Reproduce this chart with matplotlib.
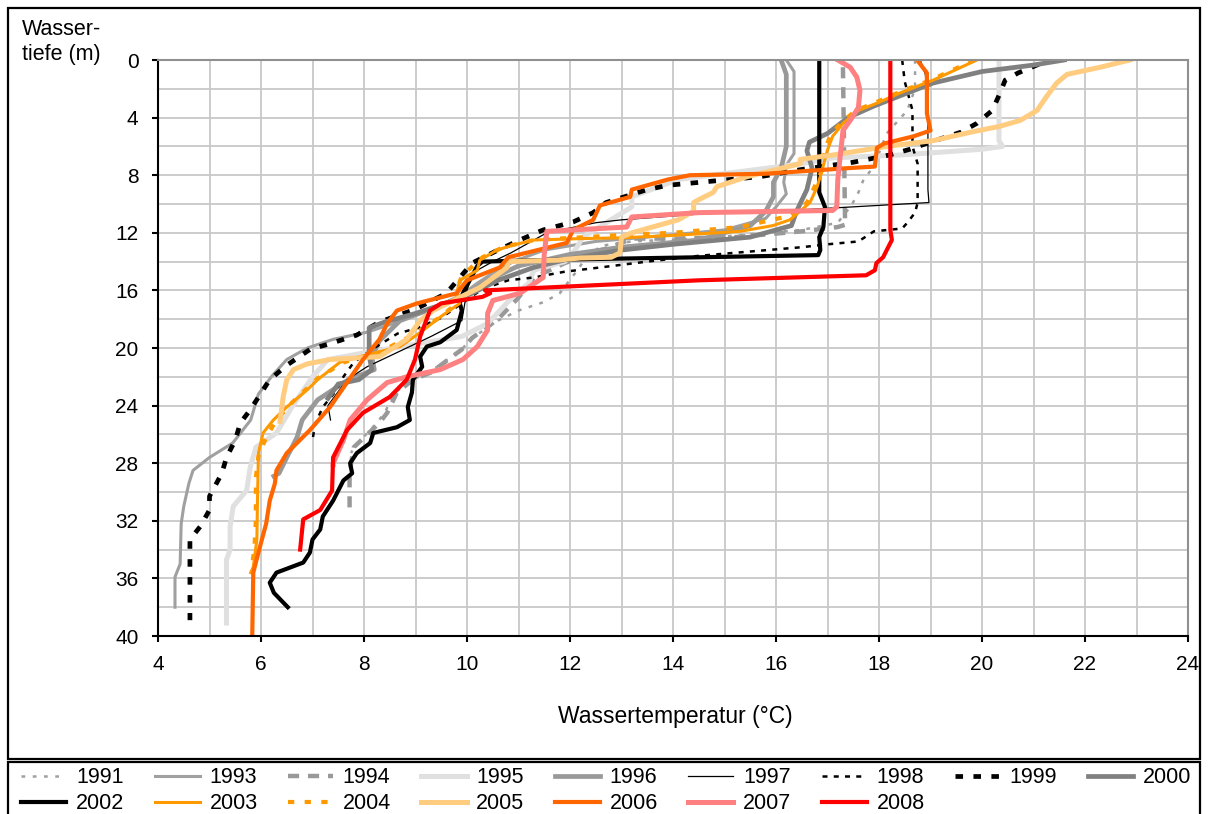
import matplotlib
matplotlib.use("Agg")
import matplotlib.pyplot as plt
import matplotlib.patches as patches
from matplotlib.ticker import MultipleLocator

plt.rcParams['font.family'] = ['Liberation Sans', 'DejaVu Sans']

# temperature (degC) / depth (m) profiles
t1991 = [18.7, 18.7, 18.55, 18.3, 18.15, 18.05, 17.9, 17.7, 17.6, 17.45, 17.35, 17.2, 16.5, 15.5, 14.5, 13.2, 12.6, 12.3, 12.1, 11.8, 11.5, 11.0, 10.6, 10.06, 9.9, 9.3, 8.95, 8.6, 8.4, 8.25, 7.8, 7.75]
d1991 = [0, 2, 3.5, 4.5, 5.1, 6, 7.4, 8.3, 9.2, 10.2, 10.6, 11.3, 11.8, 12.1, 12.4, 12.6, 12.9, 13.8, 14.8, 16.2, 16.8, 17.4, 18.1, 19.4, 20.1, 21.6, 22.2, 23.1, 24.5, 25.2, 26.9, 27.3]

t1993 = [16.2, 16.35, 16.35, 16.2, 16.15, 16.2, 16.0, 15.8, 15.0, 13.5, 12.5, 11.5, 10.9, 10.5, 10.2, 9.9, 9.5, 9.0, 8.57, 8.06, 7.4, 6.9, 6.5, 6.2, 5.95, 5.8, 5.45, 5.0, 4.68, 4.6, 4.5, 4.45, 4.43, 4.33, 4.33]
d1993 = [0, 0.8, 6.5, 7.3, 8.5, 9.3, 10.2, 11.0, 11.8, 12.3, 12.6, 13.2, 14.0, 14.8, 15.5, 16.3, 17.0, 17.6, 18.3, 18.9, 19.4, 20.0, 20.8, 22.0, 23.2, 25.0, 26.6, 27.6, 28.5, 29.4, 31.0, 32.2, 35.0, 35.9, 38.0]

t1994 = [17.3, 17.34, 17.38, 17.2, 16.5, 15.2, 14.0, 13.2, 12.8, 12.6, 11.9, 11.3, 11.0, 10.6, 10.1, 9.9, 9.3, 8.95, 8.64, 8.45, 8.3, 7.8, 7.75, 7.72, 7.72]
d1994 = [0.5, 11.1, 11.4, 11.6, 11.9, 12.3, 12.4, 12.4, 13.0, 13.2, 14.1, 15.1, 16.5, 18.0, 19.3, 20.1, 21.7, 22.2, 23.1, 24.5, 25.2, 26.9, 28.0, 29.0, 31.3]

t1995 = [20.33, 20.33, 20.4, 20.0, 18.4, 17.1, 16.5, 15.2, 14.1, 13.2, 13.2, 12.25, 12.1, 11.9, 11.3, 11.2, 10.9, 10.4, 9.9, 8.06, 7.3, 7.0, 6.6, 6.3, 5.9, 5.79, 5.72, 5.46, 5.4, 5.4, 5.33, 5.33]
d1995 = [0, 5.6, 6.0, 6.2, 6.6, 6.8, 7.2, 7.8, 8.3, 9.5, 10.2, 12.3, 13.2, 14.0, 14.6, 15.5, 16.4, 18.3, 19.2, 20.3, 20.8, 22.0, 24.1, 25.9, 26.9, 28.3, 29.9, 31.0, 32.4, 34.0, 34.7, 39.1]

t1996 = [16.1, 16.2, 16.2, 16.1, 15.95, 15.95, 15.8, 15.5, 14.5, 13.0, 12.0, 11.0, 10.4, 10.0, 9.3, 8.7, 8.3, 8.15, 8.2, 7.7, 7.1, 6.8, 6.7, 6.5, 6.35, 6.25]
d1996 = [0, 1, 6, 7.5, 8.5, 9.5, 10.5, 11.5, 12.5, 13.0, 13.5, 14.3, 15.3, 16.3, 17.3, 18.1, 19.5, 20.6, 21.5, 22.2, 23.6, 25.0, 26.2, 27.6, 28.7, 28.9]

t1997 = [18.8, 18.9, 18.95, 18.95, 18.97, 16.5, 14.5, 13.0, 12.5, 11.55, 10.85, 10.5, 10.1, 10.0, 9.9, 9.3, 8.06, 7.67, 7.3, 7.35]
d1997 = [0, 1, 3, 9, 9.9, 10.4, 10.7, 11.1, 11.3, 12.0, 13.4, 14.0, 14.8, 16.0, 18.1, 19.2, 21.3, 22.2, 24.0, 25.0]

t1998 = [18.45, 18.5, 18.65, 18.65, 18.75, 18.75, 18.7, 18.55, 18.45, 17.9, 17.6, 17.0, 16.5, 15.5, 14.5, 13.5, 12.6, 11.9, 11.3, 10.8, 10.3, 9.9, 9.5, 9.05, 8.65, 8.2, 7.8, 7.6, 7.45, 7.2, 7.05, 7.0]
d1998 = [0, 1.5, 3.5, 6, 7.2, 9.9, 10.6, 11.3, 11.7, 11.9, 12.6, 12.8, 13.0, 13.3, 13.6, 14.0, 14.4, 14.7, 15.1, 15.3, 15.9, 16.9, 17.9, 18.6, 19.0, 20.0, 21.0, 22.0, 23.0, 24.1, 25.3, 26.4]

t1999 = [21.1, 20.7, 20.45, 20.35, 20.2, 19.9, 19.6, 19.0, 18.6, 18.2, 17.5, 16.5, 15.7, 14.5, 13.9, 13.5, 12.7, 12.45, 12.06, 11.48, 11.09, 10.6, 10.1, 9.6, 9.0, 8.3, 7.86, 7.34, 6.95, 6.5, 6.17, 5.79, 5.6, 5.5, 5.33, 5.24, 5.0, 5.0, 4.82, 4.62, 4.62]
d1999 = [0.3, 0.9, 1.4, 2.3, 3.5, 4.4, 5.0, 5.7, 6.2, 6.6, 7.1, 7.6, 8.1, 8.5, 8.7, 9.0, 9.9, 10.6, 11.25, 11.8, 12.4, 13.2, 14.1, 16.2, 17.3, 18.2, 19.1, 19.7, 20.1, 21.2, 22.2, 24.3, 25.2, 26.4, 27.6, 28.7, 30.3, 31.25, 32.4, 33.3, 38.9]

t2000 = [21.6, 21.0, 20.0, 19.05, 18.4, 17.9, 17.4, 17.0, 16.65, 16.6, 16.7, 16.6, 16.4, 16.3, 15.5, 14.0, 13.0, 12.0, 11.3, 10.6, 10.1, 9.5, 9.0, 8.4, 8.1, 8.1, 8.15, 7.9, 7.5, 7.3]
d2000 = [0, 0.35, 0.8, 1.6, 2.5, 3.2, 4.0, 5.1, 5.7, 6.3, 7.5, 9.0, 10.5, 11.5, 12.3, 12.8, 13.2, 13.8, 14.4, 15.3, 16.2, 17.0, 17.6, 18.2, 18.6, 20.5, 21.5, 22.2, 22.5, 23.5]

t2002 = [16.84, 16.84, 16.95, 16.92, 16.84, 16.86, 16.82, 14.5, 12.0, 10.3, 10.2, 9.92, 9.86, 9.9, 9.8, 9.48, 9.22, 9.09, 9.13, 8.95, 8.93, 8.85, 8.89, 8.64, 8.18, 8.12, 7.86, 7.73, 7.77, 7.6, 7.4, 7.2, 7.15, 7.0, 6.95, 6.82, 6.3, 6.17, 6.25, 6.52]
d2002 = [0, 9.2, 10.2, 11.6, 12.3, 13.2, 13.55, 13.7, 13.85, 14.0, 14.3, 16.2, 16.9, 17.4, 18.75, 19.6, 19.9, 20.6, 21.3, 22.2, 23.1, 24.1, 25.0, 25.5, 25.9, 26.6, 27.3, 28.0, 28.7, 29.2, 30.6, 31.7, 32.6, 33.3, 34.2, 34.9, 35.6, 36.3, 37.0, 38.0]

t2003 = [19.9, 19.05, 18.4, 17.96, 17.6, 17.3, 17.1, 17.0, 16.95, 16.9, 16.8, 16.66, 16.5, 16.27, 15.94, 15.3, 14.85, 13.9, 13.0, 12.25, 11.3, 10.9, 10.58, 10.25, 10.2, 9.86, 9.8, 9.86, 9.5, 9.1, 8.7, 7.92, 7.53, 7.1, 6.9, 6.5, 6.24, 6.04, 5.95, 5.93, 5.92, 5.85, 5.8]
d2003 = [0, 1.4, 2.3, 3.0, 3.5, 4.4, 5.3, 6.25, 6.9, 7.6, 8.8, 9.9, 10.4, 11.1, 11.5, 11.9, 12.0, 12.2, 12.35, 12.4, 12.5, 12.85, 13.2, 13.9, 14.6, 15.3, 16.2, 16.9, 17.8, 18.9, 19.9, 20.6, 21.0, 22.2, 22.9, 24.1, 25.0, 25.9, 27.3, 31.0, 33.3, 35.2, 35.6]

t2004 = [19.85, 19.0, 18.35, 17.9, 17.55, 17.25, 17.05, 16.95, 16.9, 16.75, 16.6, 16.3, 15.3, 14.0, 13.0, 12.3, 11.3, 10.7, 10.3, 9.9, 9.8, 9.8, 9.5, 9.0, 8.3, 7.6, 7.1, 6.6, 6.3, 6.1, 5.95, 5.9, 5.9, 5.87, 5.83]
d2004 = [0, 1.4, 2.3, 3.0, 3.5, 4.4, 5.3, 6.2, 7.6, 8.8, 9.9, 10.8, 11.6, 12.0, 12.15, 12.3, 12.5, 13.0, 13.7, 15.0, 16.0, 16.9, 17.8, 19.0, 20.3, 21.0, 22.1, 23.8, 25.0, 26.2, 27.5, 29.0, 32.0, 34.0, 35.0]

t2005 = [22.87, 22.3, 21.65, 21.45, 21.26, 21.07, 20.74, 20.35, 19.8, 19.05, 18.15, 17.1, 16.47, 16.47, 15.44, 14.85, 14.78, 14.5, 14.4, 14.4, 14.1, 13.2, 13.0, 12.97, 12.8, 12.2, 11.75, 10.8, 10.78, 10.25, 9.34, 9.09, 8.83, 8.3, 7.34, 6.9, 6.63, 6.5, 6.43, 6.37]
d2005 = [0, 0.5, 1.0, 1.6, 2.5, 3.5, 4.2, 4.6, 5.0, 5.6, 6.0, 6.6, 6.9, 7.2, 8.1, 8.8, 9.2, 9.7, 9.9, 10.5, 11.1, 12.0, 12.3, 13.4, 13.7, 13.75, 13.9, 14.0, 14.4, 15.8, 17.4, 18.1, 19.4, 20.6, 20.8, 21.1, 21.5, 22.2, 23.4, 25.1]

t2006 = [18.74, 18.93, 18.93, 19.0, 18.67, 18.1, 17.96, 17.92, 17.44, 15.8, 14.33, 13.9, 13.2, 13.17, 12.58, 12.45, 12.06, 11.94, 10.8, 10.64, 10.0, 9.8, 9.03, 8.64, 8.45, 8.3, 7.98, 7.34, 6.95, 6.5, 6.3, 6.27, 6.17, 6.1, 5.98, 5.85, 5.83]
d2006 = [0, 0.9, 3.7, 4.9, 5.3, 5.8, 6.1, 7.4, 7.5, 7.9, 8.0, 8.3, 9.0, 9.5, 10.1, 11.1, 11.8, 12.7, 13.7, 14.4, 15.3, 16.2, 16.9, 17.4, 18.3, 19.4, 20.8, 24.1, 25.7, 27.3, 28.5, 29.4, 30.6, 32.2, 33.8, 35.6, 40.0]

t2007 = [17.2, 17.44, 17.57, 17.63, 17.6, 17.44, 17.3, 17.28, 17.24, 17.2, 17.18, 17.1, 14.5, 13.2, 13.1, 11.55, 11.5, 11.48, 11.03, 10.5, 10.4, 10.4, 10.2, 9.92, 9.48, 8.83, 8.45, 8.06, 7.73, 7.6, 7.4, 7.4]
d2007 = [0, 0.5, 1.2, 2.1, 3.3, 4.2, 4.9, 5.6, 6.9, 8.3, 10.2, 10.45, 10.6, 10.9, 11.6, 11.9, 13.5, 15.1, 16.2, 16.7, 17.6, 18.75, 19.9, 20.8, 21.5, 22.0, 22.4, 23.6, 25.0, 26.4, 28.0, 28.1]

t2008 = [18.22, 18.22, 18.25, 18.15, 18.08, 17.95, 17.92, 17.75, 14.5, 10.35, 10.45, 10.3, 9.5, 9.28, 9.09, 8.99, 8.83, 8.5, 7.98, 7.67, 7.4, 7.38, 7.15, 6.82, 6.76]
d2008 = [0, 11.8, 12.5, 13.2, 13.7, 14.1, 14.6, 14.95, 15.3, 16.0, 16.2, 16.45, 16.9, 17.4, 19.2, 20.8, 22.2, 23.4, 24.5, 25.7, 27.6, 29.9, 31.25, 31.9, 34.0]

years = ['1991', '1993', '1994', '1995', '1996', '1997', '1998', '1999', '2000',
         '2002', '2003', '2004', '2005', '2006', '2007', '2008']
temps = [t1991, t1993, t1994, t1995, t1996, t1997, t1998, t1999, t2000,
         t2002, t2003, t2004, t2005, t2006, t2007, t2008]
depths = [d1991, d1993, d1994, d1995, d1996, d1997, d1998, d1999, d2000,
          d2002, d2003, d2004, d2005, d2006, d2007, d2008]

# (colour, linewidth, dashes)
styles = [
    ('#a0a0a0', 1.8, (1.5, 3.0)),
    ('#a0a0a0', 2.2, None),
    ('#999999', 3.2, (2.5, 2.0)),
    ('#e0e0e0', 3.6, None),
    ('#999999', 3.4, None),
    ('black', 0.9, None),
    ('black', 1.8, (2.0, 2.5)),
    ('black', 3.4, (1.6, 2.2)),
    ('#808080', 3.4, None),
    ('black', 3.0, None),
    ('#ff9900', 2.2, None),
    ('#ff9900', 3.0, (1.5, 2.5)),
    ('#ffcc80', 3.6, None),
    ('#ff6600', 3.0, None),
    ('#ff8080', 3.6, None),
    ('#ff0000', 3.0, None),
]

fig = plt.figure(figsize=(12.08, 8.14), dpi=100)
ax = fig.add_axes([158/1208, 1-636/814, 1030/1208, 576/814])

handles = []
for yr, t, d, (c, lw, ds) in zip(years, temps, depths, styles):
    line, = ax.plot(t, d, color=c, lw=lw, label=yr, solid_joinstyle='round')
    if ds is not None:
        line.set_dashes(ds)
    handles.append(line)

ax.set_xlim(4, 24)
ax.set_ylim(40, 0)
ax.xaxis.set_major_locator(MultipleLocator(2))
ax.xaxis.set_minor_locator(MultipleLocator(1))
ax.yaxis.set_major_locator(MultipleLocator(4))
ax.yaxis.set_minor_locator(MultipleLocator(2))
ax.grid(which='both', color='#c8c8c8', lw=1.3, zorder=0)
ax.set_axisbelow(True)
ax.tick_params(which='major', direction='out', length=4, width=1.5, labelsize=15, pad=10)
ax.tick_params(which='minor', length=0)
for s in ['left', 'bottom']:
    ax.spines[s].set_color('black')
    ax.spines[s].set_linewidth(1.5)
for s in ['top', 'right']:
    ax.spines[s].set_color('#909090')
    ax.spines[s].set_linewidth(1.5)

fig.text(675/1208, 1-716/814, 'Wassertemperatur (°C)', ha='center', va='center', fontsize=16.5)
fig.text(22/1208, 1-42/814, 'Wasser-\ntiefe (m)', ha='left', va='center', fontsize=15.5, linespacing=1.2)

# outer frames
fig.patches.append(patches.Rectangle((8/1208, 1-759/814), 1192/1208, 751/814,
                                     transform=fig.transFigure, fill=False, ec='black', lw=1.6))
fig.patches.append(patches.Rectangle((8/1208, -0.01), 1192/1208, 1-762/814+0.01,
                                     transform=fig.transFigure, fill=False, ec='black', lw=1.6))

# legend filled column by column -> reorder so it reads row by row
order = [0, 9, 1, 10, 2, 11, 3, 12, 4, 13, 5, 14, 6, 15, 7, 8]
fig.legend([handles[i] for i in order], [years[i] for i in order],
           loc='upper left', bbox_to_anchor=(20/1208, 0, 1172/1208, 1-766/814),
           ncol=9, mode='expand', frameon=False, fontsize=15.5, handlelength=2.1,
           handletextpad=0.45, borderaxespad=0, borderpad=0.05, labelspacing=0.25)

fig.savefig('out.png', dpi=100)
